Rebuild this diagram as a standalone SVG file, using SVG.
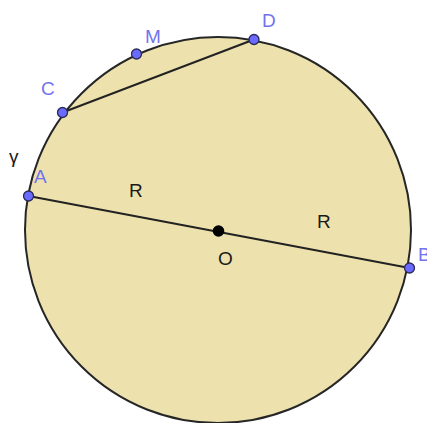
<svg xmlns="http://www.w3.org/2000/svg" width="427" height="423" viewBox="0 0 427 423">
<style>
.lbl{font-family:"Liberation Sans",Arial,sans-serif;font-size:19px;fill:#7373f0}
.blk{font-family:"Liberation Sans",Arial,sans-serif;font-size:19px;fill:#1a1a1a}
.pt{fill:#6a6aff;stroke:#2a2a55;stroke-width:1.3}
.seg{stroke:#222;stroke-width:2;fill:none}
</style>
<rect width="427" height="423" fill="#fff"/>
<g id="circle">
<circle cx="218" cy="230" r="193" fill="#ede2ae" stroke="#262626" stroke-width="2"/>
</g>
<g id="connectors">
<line class="seg" x1="62.5" y1="112.5" x2="254" y2="39.5"/>
<line class="seg" x1="28.5" y1="196" x2="409.5" y2="268"/>
</g>
<g id="C"><circle class="pt" cx="62.5" cy="112.5" r="5"/><text class="lbl" x="41" y="95">C</text></g>
<g id="M"><circle class="pt" cx="136.5" cy="54" r="5"/><text class="lbl" x="145" y="43">M</text></g>
<g id="D"><circle class="pt" cx="254" cy="39.5" r="5"/><text class="lbl" x="262" y="27">D</text></g>
<g id="A"><circle class="pt" cx="28.5" cy="196" r="5"/><text class="lbl" x="34" y="183">A</text></g>
<g id="B"><circle class="pt" cx="409.5" cy="268" r="5"/><text class="lbl" x="418" y="261">B</text></g>
<g id="O"><circle cx="218.5" cy="231" r="5.8" fill="#000"/><text class="blk" x="218" y="265">O</text></g>
<text class="blk" x="9" y="163">γ</text>
<text class="blk" x="129" y="197">R</text>
<text class="blk" x="317" y="228">R</text>
</svg>
